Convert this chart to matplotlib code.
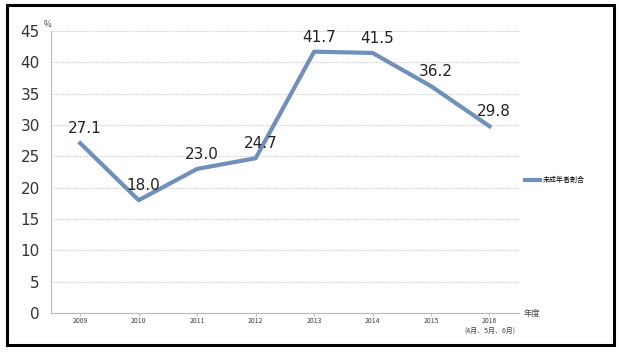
import matplotlib.pyplot as plt
from matplotlib.patches import Rectangle

plt.rcParams['font.family'] = ['Noto Sans CJK JP', 'DejaVu Sans']

years = ['2009', '2010', '2011', '2012', '2013', '2014', '2015', '2016\n(4月、5月、6月)']
ratio = [27.1, 18.0, 23.0, 24.7, 41.7, 41.5, 36.2, 29.8]
yticks = [0, 5, 10, 15, 20, 25, 30, 35, 40, 45]

fig = plt.figure(figsize=(6.19, 3.54), dpi=100)
ax = fig.add_axes([0.0824, 0.1158, 0.7556, 0.7966])

x = range(len(years))
ax.plot(x, ratio, color='#6f8fbd', linewidth=3, label='未成年者割合')
for xi, v in zip(x, ratio):
    ax.text(xi + 0.08, v + 1.1, f'{v:.1f}', ha='center', va='bottom', fontsize=11,
            family='DejaVu Sans', color='#222222')

ax.set_xlim(-0.5, len(years) - 0.5)
ax.set_ylim(0, 45)
ax.set_yticks(yticks)
ax.set_yticklabels([str(t) for t in yticks], fontsize=11, family='DejaVu Sans', color='#333333')
ax.set_xticks(list(x))
ax.set_xticklabels(years, fontsize=5, color='#444444')
ax.tick_params(axis='x', length=2, color='#bbbbbb', pad=1)
ax.tick_params(axis='y', length=0, pad=8)
ax.grid(axis='y', color='#cccccc', linewidth=0.8, linestyle=(0, (1, 1)))
for s in ['top', 'right']:
    ax.spines[s].set_visible(False)
ax.spines['left'].set_color('#bbbbbb')
ax.spines['bottom'].set_color('#bbbbbb')

ax.text(-0.62, 45.3, '%', fontsize=6, ha='left', va='bottom', color='#444444')
ax.text(1.01, 0, '年度', transform=ax.get_yaxis_transform(), fontsize=6,
        ha='left', va='center', color='#444444')

ax.legend(loc='center left', bbox_to_anchor=(1.0, 0.47), frameon=False, fontsize=5,
          handlelength=2.2, handletextpad=0.3)

fig.patches.append(Rectangle((7 / 619, 1 - 345 / 354), 607 / 619, 340 / 354,
                             transform=fig.transFigure, fill=False, edgecolor='black',
                             linewidth=2.2))

fig.savefig('out.png', dpi=100)
